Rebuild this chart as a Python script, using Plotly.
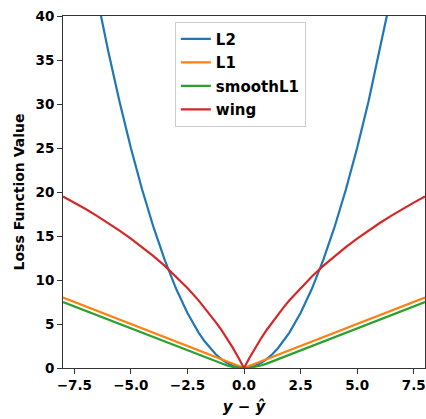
import plotly.graph_objects as go

# Sample points of the residual y - ŷ (finer steps around zero)
residual = [-8, -7.5, -7, -6.5, -6, -5.5, -5, -4.5, -4, -3.5, -3, -2.5, -2,
            -1.75, -1.5, -1.25, -1, -0.75, -0.5, -0.25, 0,
            0.25, 0.5, 0.75, 1, 1.25, 1.5, 1.75,
            2, 2.5, 3, 3.5, 4, 4.5, 5, 5.5, 6, 6.5, 7, 7.5, 8]

loss_l2 = [64, 56.25, 49, 42.25, 36, 30.25, 25, 20.25, 16, 12.25, 9, 6.25, 4,
           3.06, 2.25, 1.56, 1, 0.56, 0.25, 0.06, 0,
           0.06, 0.25, 0.56, 1, 1.56, 2.25, 3.06,
           4, 6.25, 9, 12.25, 16, 20.25, 25, 30.25, 36, 42.25, 49, 56.25, 64]

loss_l1 = [8, 7.5, 7, 6.5, 6, 5.5, 5, 4.5, 4, 3.5, 3, 2.5, 2,
           1.75, 1.5, 1.25, 1, 0.75, 0.5, 0.25, 0,
           0.25, 0.5, 0.75, 1, 1.25, 1.5, 1.75,
           2, 2.5, 3, 3.5, 4, 4.5, 5, 5.5, 6, 6.5, 7, 7.5, 8]

loss_smooth_l1 = [7.5, 7, 6.5, 6, 5.5, 5, 4.5, 4, 3.5, 3, 2.5, 2, 1.5,
                  1.25, 1, 0.75, 0.5, 0.28, 0.125, 0.03, 0,
                  0.03, 0.125, 0.28, 0.5, 0.75, 1, 1.25,
                  1.5, 2, 2.5, 3, 3.5, 4, 4.5, 5, 5.5, 6, 6.5, 7, 7.5]

loss_wing = [19.49, 18.79, 18.06, 17.29, 16.48, 15.62, 14.71, 13.74, 12.71, 11.60, 10.40, 9.09, 7.66,
             6.89, 6.08, 5.22, 4.32, 3.35, 2.31, 1.20, 0,
             1.20, 2.31, 3.35, 4.32, 5.22, 6.08, 6.89,
             7.66, 9.09, 10.40, 11.60, 12.71, 13.74, 14.71, 15.62, 16.48, 17.29, 18.06, 18.79, 19.49]

series_names = ["L2", "L1", "smoothL1", "wing"]
series_colors = ["#1f77b4", "#ff7f0e", "#2ca02c", "#d62728"]
series_values = [loss_l2, loss_l1, loss_smooth_l1, loss_wing]

x_tick_vals = [-7.5, -5.0, -2.5, 0.0, 2.5, 5.0, 7.5]
x_tick_text = ["\u22127.5", "\u22125.0", "\u22122.5", "0.0", "2.5", "5.0", "7.5"]
y_tick_vals = [0, 5, 10, 15, 20, 25, 30, 35, 40]

FONT = "DejaVu Sans"

fig = go.Figure()
for name, color, values in zip(series_names, series_colors, series_values):
    fig.add_trace(go.Scatter(
        x=residual, y=values, mode="lines", name=name, legendgroup=name,
        line=dict(color=color, width=2.2),
    ))

axis_common = dict(
    showline=True, linecolor="#333333", linewidth=1, mirror=True,
    ticks="outside", ticklen=5, tickwidth=1, tickcolor="#333333",
    showgrid=False, zeroline=False,
    ticklabeloverflow="allow",
    tickfont=dict(family=FONT, size=13.5, color="black", weight="bold"),
)

fig.update_layout(
    width=426, height=419,
    margin=dict(l=63, r=1, t=16, b=51),
    paper_bgcolor="white", plot_bgcolor="white",
    font=dict(family=FONT, size=14, color="black"),
    showlegend=True,
    legend=dict(
        x=0.309, y=0.984, xanchor="left", yanchor="top",
        bgcolor="white", bordercolor="#cccccc", borderwidth=1,
        tracegroupgap=1,
        font=dict(family=FONT, size=15, color="black", weight="bold"),
    ),
    xaxis=dict(
        range=[-8, 8], tickvals=x_tick_vals, ticktext=x_tick_text,
        title=dict(text="<i>y</i> \u2212 <i>\u0177</i>", standoff=9,
                   font=dict(family=FONT, size=15, weight="bold")),
        **axis_common,
    ),
    yaxis=dict(
        range=[0, 40], tickvals=y_tick_vals,
        title=dict(text="Loss Function Value", standoff=7,
                   font=dict(family=FONT, size=14, weight="bold")),
        **axis_common,
    ),
)

fig.write_html("out.html")
